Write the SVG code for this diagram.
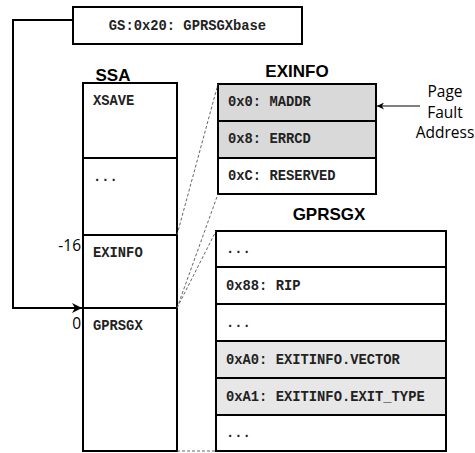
<svg xmlns="http://www.w3.org/2000/svg" width="475" height="453" viewBox="0 0 475 453">
<style>
.box{fill:#fff;stroke:#000;stroke-width:2}
.g1{fill:#d9d9d9;stroke:#000;stroke-width:2}
.g2{fill:#e7e7e7;stroke:#000;stroke-width:2}
.mono{font-family:"Liberation Mono","Courier New",monospace;font-weight:bold;font-size:13.8px;fill:#222}
.title{font-family:"Liberation Sans",Arial,sans-serif;font-weight:bold;font-size:17px;fill:#000;text-anchor:middle}
.lbl{font-family:"Open Sans","Liberation Sans",sans-serif;font-size:15.5px;fill:#000}
.dash{fill:none;stroke:#555;stroke-width:0.9;stroke-dasharray:3,2}
</style>
<defs>
<marker id="ah" viewBox="0 0 10 10" refX="10" refY="5" markerWidth="10" markerHeight="10" markerUnits="userSpaceOnUse" orient="auto">
<path d="M0,0 L10,5 L0,10 L3,5 z" fill="#000"/>
</marker>
<marker id="ah2" viewBox="0 0 10 10" refX="10" refY="5" markerWidth="7" markerHeight="7" markerUnits="userSpaceOnUse" orient="auto">
<path d="M0,0 L10,5 L0,10 L3,5 z" fill="#000"/>
</marker>
</defs>

<g id="gsbase">
<rect class="box" x="73" y="7" width="229" height="37"/>
<text class="mono" x="187.5" y="30" text-anchor="middle">GS:0x20: GPRSGXbase</text>
</g>

<g id="ssa">
<text class="title" x="113" y="81">SSA</text>
<rect class="box" x="83" y="83" width="94" height="368"/>
<line x1="83" y1="158" x2="177" y2="158" stroke="#000" stroke-width="2"/>
<line x1="83" y1="235" x2="177" y2="235" stroke="#000" stroke-width="2"/>
<line x1="83" y1="308" x2="177" y2="308" stroke="#000" stroke-width="2"/>
<text class="mono" x="93" y="105">XSAVE</text>
<text class="mono" x="93" y="181">...</text>
<text class="mono" x="93" y="257">EXINFO</text>
<text class="mono" x="93" y="330">GPRSGX</text>
<text class="lbl" x="81" y="251" text-anchor="end">-16</text>
<text class="lbl" x="81" y="329" text-anchor="end">0</text>
</g>

<g id="exinfo">
<text class="title" x="297" y="77">EXINFO</text>
<rect class="g1" x="218" y="84" width="158" height="37"/>
<rect class="g1" x="218" y="121" width="158" height="37"/>
<rect class="box" x="218" y="158" width="158" height="36"/>
<text class="mono" x="228" y="106">0x0: MADDR</text>
<text class="mono" x="228" y="143">0x8: ERRCD</text>
<text class="mono" x="228" y="180">0xC: RESERVED</text>
</g>

<g id="pagefault">
<text class="lbl" x="445" y="97" text-anchor="middle">Page</text>
<text class="lbl" x="445" y="118" text-anchor="middle">Fault</text>
<text class="lbl" x="445" y="138" text-anchor="middle">Address</text>
</g>

<g id="gprsgx">
<text class="title" x="329" y="220">GPRSGX</text>
<rect class="box" x="216" y="231" width="230" height="36"/>
<rect class="box" x="216" y="267" width="230" height="37"/>
<rect class="box" x="216" y="304" width="230" height="37"/>
<rect class="g2" x="216" y="341" width="230" height="37"/>
<rect class="g2" x="216" y="378" width="230" height="37"/>
<rect class="box" x="216" y="415" width="230" height="36"/>
<text class="mono" x="226" y="253">...</text>
<text class="mono" x="226" y="290">0x88: RIP</text>
<text class="mono" x="226" y="327">...</text>
<text class="mono" x="226" y="364">0xA0: EXITINFO.VECTOR</text>
<text class="mono" x="226" y="401">0xA1: EXITINFO.EXIT_TYPE</text>
<text class="mono" x="226" y="437">...</text>
</g>

<g id="connectors">
<polyline points="73,20 13,20 13,308 82,308" fill="none" stroke="#000" stroke-width="2" marker-end="url(#ah)"/>
<line x1="420" y1="106" x2="377" y2="106" stroke="#000" stroke-width="1" marker-end="url(#ah2)"/>
<line class="dash" x1="177" y1="235" x2="218" y2="84"/>
<line class="dash" x1="177" y1="308" x2="218" y2="194"/>
<line class="dash" x1="177" y1="308" x2="216" y2="231"/>
<line class="dash" x1="177" y1="451" x2="216" y2="451"/>
</g>
</svg>
